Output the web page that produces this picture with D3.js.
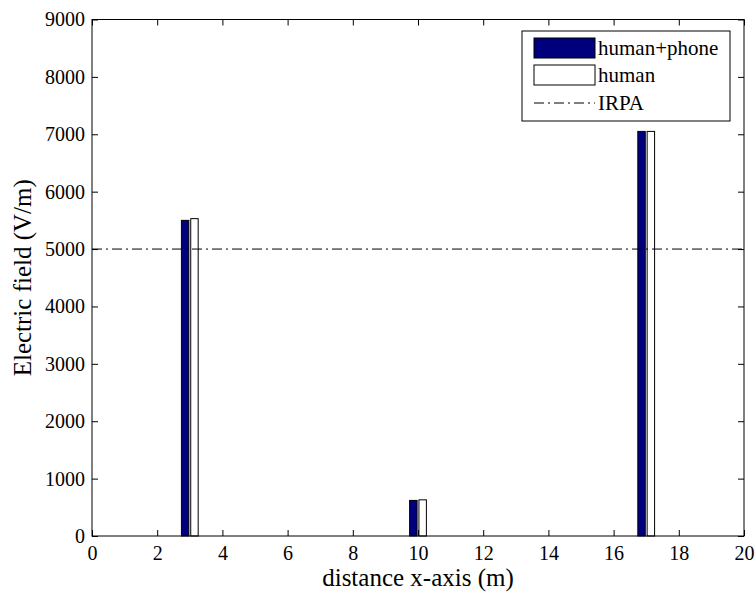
<!DOCTYPE html>
<html><head><meta charset="utf-8">
<script src="https://cdn.jsdelivr.net/npm/d3@7"></script>
<style>body{margin:0;background:#fff}svg{display:block}text{font-family:'Liberation Serif','Times New Roman',serif}</style>
</head><body>
<script>
const positions = [3, 10, 17];
const humanPhone = [5500, 620, 7050];
const human = [5530, 630, 7050];
const seriesNames = ["human+phone", "human"];
const irpaLevel = 5000;
const xTicks = [0,2,4,6,8,10,12,14,16,18,20];
const yTicks = [0,1000,2000,3000,4000,5000,6000,7000,8000,9000];

const W = 756, H = 594;
const m = {left: 92, right: 12, top: 19.5, bottom: 58};
const iw = W - m.left - m.right, ih = H - m.top - m.bottom;
const svg = d3.select("body").append("svg").attr("width", W).attr("height", H);
const g = svg.append("g").attr("transform", `translate(${m.left},${m.top})`);
const x = d3.scaleLinear().domain([0,20]).range([0, iw]);
const y = d3.scaleLinear().domain([0,9000]).range([ih, 0]);
const font = "'Liberation Serif', 'Times New Roman', serif";

g.append("rect").attr("width", iw).attr("height", ih).attr("fill", "#fff");

// bars (MATLAB grouped layout)
const groupW = 2/3.5, barW = groupW/2*0.8;
const offsets = [-groupW/4, groupW/4];
const data = [humanPhone, human];
const fills = ["#00007f", "#ffffff"];
data.forEach((vals, s) => {
  g.selectAll(".b"+s).data(vals).enter().append("rect")
    .attr("x", (d,i) => x(positions[i] + offsets[s] - barW/2))
    .attr("width", (d,i) => x(positions[i] + offsets[s] + barW/2) - x(positions[i] + offsets[s] - barW/2))
    .attr("y", d => y(d)).attr("height", d => y(0) - y(d))
    .attr("fill", fills[s]).attr("stroke", "#000").attr("stroke-width", 1);
});

// IRPA line
g.append("line").attr("x1", 0).attr("x2", iw).attr("y1", y(irpaLevel)).attr("y2", y(irpaLevel))
  .attr("stroke", "#000").attr("stroke-width", 1).attr("stroke-dasharray", "10,4,2,4");

// axes
const tickLen = 6;
const fmt = d3.format("d");
const xb = g.append("g").attr("transform", `translate(0,${ih})`)
  .call(d3.axisBottom(x).tickValues(xTicks).tickFormat(fmt).tickSizeInner(-tickLen).tickSizeOuter(0).tickPadding(10));
const xt = g.append("g").call(d3.axisTop(x).tickValues(xTicks).tickSizeInner(-tickLen).tickSizeOuter(0).tickFormat(""));
const yl = g.append("g").call(d3.axisLeft(y).tickValues(yTicks).tickFormat(fmt).tickSizeInner(-tickLen).tickSizeOuter(0).tickPadding(7));
const yr = g.append("g").attr("transform", `translate(${iw},0)`)
  .call(d3.axisRight(y).tickValues(yTicks).tickSizeInner(-tickLen).tickSizeOuter(0).tickFormat(""));
[xb, xt, yl, yr].forEach(a => {
  a.attr("font-family", null);
  a.select(".domain").remove();
  a.selectAll("line").attr("stroke", "#000");
  a.selectAll("text").style("font-family", font).attr("font-size", 20).attr("fill", "#000");
});
g.append("rect").attr("width", iw).attr("height", ih).attr("fill", "none").attr("stroke", "#000").attr("stroke-width", 1);

// axis labels
svg.append("text").attr("x", m.left + iw/2).attr("y", 586).attr("text-anchor", "middle")
  .style("font-family", font).attr("font-size", 25).text("distance x-axis (m)");
svg.append("text").attr("transform", `translate(31,${m.top + ih/2}) rotate(-90)`).attr("text-anchor", "middle")
  .style("font-family", font).attr("font-size", 25).text("Electric field (V/m)");

// legend
const lg = svg.append("g");
lg.append("rect").attr("x", 522).attr("y", 31).attr("width", 208).attr("height", 90)
  .attr("fill", "#fff").attr("stroke", "#000");
[0,1].forEach(i => {
  lg.append("rect").attr("x", 534).attr("y", 38 + i*27).attr("width", 61).attr("height", 20)
    .attr("fill", fills[i]).attr("stroke", "#000");
  lg.append("text").attr("x", 598).attr("y", 55 + i*27).style("font-family", font).attr("font-size", 21)
    .text(seriesNames[i]);
});
lg.append("line").attr("x1", 534).attr("x2", 595).attr("y1", 103).attr("y2", 103)
  .attr("stroke", "#000").attr("stroke-dasharray", "10,4,2,4");
lg.append("text").attr("x", 598).attr("y", 110).style("font-family", font).attr("font-size", 21).text("IRPA");
</script>
</body></html>
